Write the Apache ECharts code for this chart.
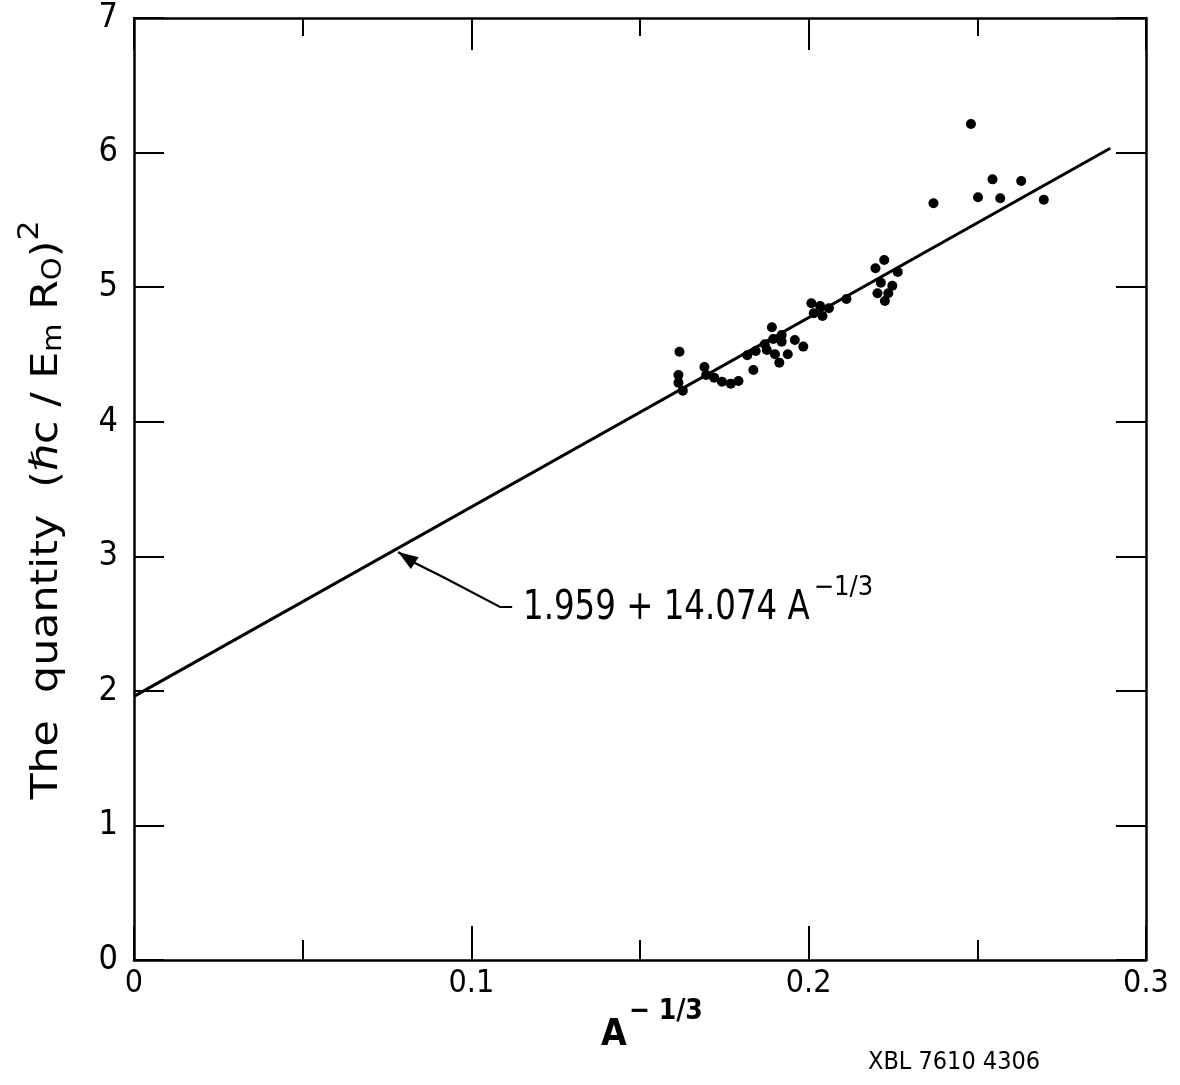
<!DOCTYPE html>
<html>
<head>
<meta charset="utf-8">
<script src="https://cdn.jsdelivr.net/npm/echarts@6/dist/echarts.min.js"></script>
<style>
html,body{margin:0;padding:0;background:#fff;}
#main{width:1180px;height:1085px;}
</style>
</head>
<body>
<div id="main"></div>
<script>
// ---- data ----
var pointsX = [0.1617,0.1614,0.1614,0.1627,0.1691,0.1696,0.1720,0.1743,0.1769,0.1792,
  0.1818,0.1843,0.1836,0.1870,0.1891,0.1895,0.1876,0.1900,0.1913,0.1920,
  0.1920,0.1938,0.1959,0.1984,0.2008,0.2034,0.2015,0.2041,0.2060,0.2112,
  0.2198,0.2224,0.2264,0.2214,0.2248,0.2204,0.2236,0.2226,
  0.2481,0.2370,0.2545,0.2630,0.2502,0.2568,0.2697];
var pointsY = [4.520,4.347,4.290,4.231,4.407,4.347,4.327,4.297,4.283,4.303,
  4.494,4.526,4.384,4.575,4.702,4.615,4.533,4.501,4.439,4.644,
  4.595,4.501,4.607,4.558,4.880,4.860,4.806,4.786,4.843,4.912,
  5.140,5.202,5.113,5.033,5.011,4.954,4.954,4.897,
  6.212,5.623,5.801,5.789,5.668,5.660,5.650];
var fitIntercept = 1.959;
var fitSlope = 14.074;
var fitXRange = [0, 0.2894];
var xTicks = [0, 0.1, 0.2, 0.3];
var yTicks = [0, 1, 2, 3, 4, 5, 6, 7];
var arrowPathX = [0.1121, 0.1085, 0.0916, 0.0827, 0.0783];
var arrowPathY = [2.623, 2.623, 2.846, 2.958, 3.032];
var formulaMain = '1.959 + 14.074 A';
var formulaSup = '\u22121/3';
var xName = 'A';
var xNameSup = '\u2212 1/3';
var yNameRich = '{t|The  quantity  (ℏc / E}{sb|m}{t| R}{sb|O}{t|)}{sp|2}';
var stampText = 'XBL 7610 4306';

var FONT = '"DejaVu Sans Condensed","DejaVu Sans",sans-serif';

var scatterData = pointsX.map(function (x, i) { return [x, pointsY[i]]; });
var fitData = fitXRange.map(function (x) { return [x, fitIntercept + fitSlope * x]; });
var arrowCoords = arrowPathX.map(function (x, i) { return [x, arrowPathY[i]]; });

function measure(text, size, weight) {
  var c = document.createElement('canvas').getContext('2d');
  c.font = (weight || 'normal') + ' ' + size + 'px ' + FONT;
  return c.measureText(text).width;
}

var chart = echarts.init(document.getElementById('main'), null, {renderer: 'canvas'});

var axisLineStyle = {color: '#000', width: 2.5};
var tickStyle = {color: '#000', width: 2};

chart.setOption({
  backgroundColor: '#fff',
  animation: false,
  grid: {left: 134, right: 34, top: 18, bottom: 125, containLabel: false, outerBoundsMode: 'none'},
  xAxis: [{
    type: 'value', min: xTicks[0], max: xTicks[xTicks.length - 1], interval: 0.1,
    position: 'bottom',
    axisLine: {show: true, lineStyle: axisLineStyle, onZero: false},
    axisTick: {show: true, inside: true, length: 34, lineStyle: tickStyle},
    minorTick: {show: true, splitNumber: 2, length: 20, lineStyle: tickStyle},
    splitLine: {show: false},
    axisLabel: {
      fontFamily: FONT, fontSize: 32, color: '#000', margin: 8,
      formatter: function (v) { return v === 0 ? '0' : v.toFixed(1); }
    }
  }, {
    type: 'value', min: xTicks[0], max: xTicks[xTicks.length - 1], interval: 0.1,
    position: 'top',
    axisLine: {show: true, lineStyle: axisLineStyle, onZero: false},
    axisTick: {show: true, inside: true, length: 32, lineStyle: tickStyle},
    minorTick: {show: true, splitNumber: 2, length: 18, lineStyle: tickStyle},
    splitLine: {show: false},
    axisLabel: {show: false}
  }],
  yAxis: [{
    type: 'value', min: yTicks[0], max: yTicks[yTicks.length - 1], interval: 1,
    position: 'left',
    axisLine: {show: true, lineStyle: axisLineStyle, onZero: false},
    axisTick: {show: true, inside: true, length: 30, lineStyle: tickStyle},
    splitLine: {show: false},
    axisLabel: {fontFamily: FONT, fontSize: 34, color: '#000', margin: 16}
  }, {
    type: 'value', min: yTicks[0], max: yTicks[yTicks.length - 1], interval: 1,
    position: 'right',
    axisLine: {show: true, lineStyle: axisLineStyle, onZero: false},
    axisTick: {show: true, inside: true, length: 30, lineStyle: tickStyle},
    splitLine: {show: false},
    axisLabel: {show: false}
  }],
  series: [{
    type: 'line', data: fitData, symbol: 'none',
    lineStyle: {color: '#000', width: 3}, silent: true, z: 2
  }, {
    type: 'scatter', data: scatterData, symbol: 'circle', symbolSize: 10,
    itemStyle: {color: '#000', opacity: 1}, z: 3
  }, {
    type: 'lines', coordinateSystem: 'cartesian2d', polyline: true,
    data: [{coords: arrowCoords}], symbol: 'none',
    lineStyle: {color: '#000', width: 2.2, opacity: 1}, silent: true, z: 4
  }]
});

// arrow head, placed from the last two arrow path points through the chart's scales
var n = arrowCoords.length;
var pA = chart.convertToPixel({gridIndex: 0}, arrowCoords[n - 2]);
var pB = chart.convertToPixel({gridIndex: 0}, arrowCoords[n - 1]);
var dx = pB[0] - pA[0], dy = pB[1] - pA[1];
var len = Math.sqrt(dx * dx + dy * dy);
var ux = dx / len, uy = dy / len;
var headL = 20, headW = 7;
var headPts = [
  [pB[0], pB[1]],
  [pB[0] - ux * headL - uy * headW, pB[1] - uy * headL + ux * headW],
  [pB[0] - ux * headL + uy * headW, pB[1] - uy * headL - ux * headW]
];

var fMainSize = 41, fSupSize = 27, fScale = 0.88;
var fLeft = 523;
var fMainW = measure(formulaMain, fMainSize) * fScale;

var aSize = 37, aSupSize = 28;
var aLeft = 601;
var aW = measure(xName, aSize, 'bold');

chart.setOption({
  graphic: [{
    type: 'text', x: 47, y: 510, rotation: Math.PI / 2, scaleX: 1.25,
    style: {
      text: yNameRich,
      align: 'center', verticalAlign: 'middle',
      rich: {
        t: {fontFamily: FONT, fontSize: 38, fill: '#000', lineHeight: 60, verticalAlign: 'middle'},
        sb: {fontFamily: FONT, fontSize: 26, fill: '#000', lineHeight: 60, verticalAlign: 'bottom', padding: [0, 0, 10, 0]},
        sp: {fontFamily: FONT, fontSize: 28, fill: '#000', lineHeight: 60, verticalAlign: 'top'}
      }
    }
  }, {
    type: 'polygon', shape: {points: headPts}, style: {fill: '#000'}, z: 10
  }, {
    type: 'text', x: fLeft, y: 608, scaleX: fScale,
    style: {text: formulaMain, fontFamily: FONT, fontSize: fMainSize, fill: '#000', align: 'left', verticalAlign: 'middle'}
  }, {
    type: 'text', x: fLeft + fMainW + 4, y: 588,
    style: {text: formulaSup, fontFamily: FONT, fontSize: fSupSize, fill: '#000', align: 'left', verticalAlign: 'middle'}
  }, {
    type: 'text', x: aLeft, y: 1035,
    style: {text: xName, fontFamily: FONT, fontSize: aSize, fontWeight: 'bold', fill: '#000', align: 'left', verticalAlign: 'middle'}
  }, {
    type: 'text', x: aLeft + aW + 2, y: 1012,
    style: {text: xNameSup, fontFamily: FONT, fontSize: aSupSize, fontWeight: 'bold', fill: '#000', align: 'left', verticalAlign: 'middle'}
  }, {
    type: 'text', x: 868, y: 1062,
    style: {text: stampText, fontFamily: FONT, fontSize: 25, fill: '#000', align: 'left', verticalAlign: 'middle'}
  }]
});
</script>
</body>
</html>
